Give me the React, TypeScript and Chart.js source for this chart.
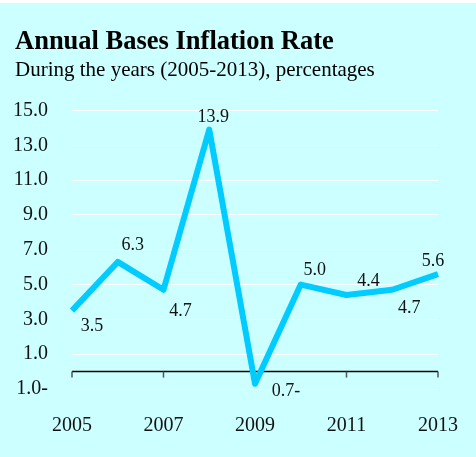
import React, { useEffect, useRef } from 'react';
import { Chart, registerables } from 'chart.js';

Chart.register(...registerables);

// ---- data ----
const years = ['2005', '2006', '2007', '2008', '2009', '2010', '2011', '2012', '2013'];
const inflation = [3.5, 6.3, 4.7, 13.9, -0.7, 5.0, 4.4, 4.7, 5.6];
const shownYears = ['2005', '2007', '2009', '2011', '2013'];
const yMin = -1;
const yMax = 15;
const yStep = 2;
const titleText = 'Annual Bases Inflation Rate';
const subtitleText = 'During the years (2005-2013), percentages';

// ---- styling ----
const BG = '#ccffff';
const LINE = '#00ccff';
const FONT = '"Liberation Serif", "Times New Roman", serif';
// label placement relative to each point (dx, dy in px)
const labelOffsets: [number, number][] = [
  [20, 16], [15, -17], [17, 21], [4, -12], [31, 7], [14, -14], [22, -14], [17, 18], [-5, -13],
];

const fmt = (v: number) => (v < 0 ? `${Math.abs(v).toFixed(1)}-` : v.toFixed(1));

const decor = {
  id: 'decor',
  beforeDraw(chart: any) {
    const { ctx, width, height } = chart;
    ctx.save();
    ctx.fillStyle = '#ffffff';
    ctx.fillRect(0, 0, width, height);
    ctx.fillStyle = BG;
    ctx.fillRect(0, 3, width, height - 3);
    ctx.fillStyle = '#000';
    ctx.textAlign = 'left';
    ctx.textBaseline = 'alphabetic';
    ctx.font = `bold 26.5px ${FONT}`;
    ctx.fillText(titleText, 15, 49);
    ctx.font = `21px ${FONT}`;
    ctx.fillText(subtitleText, 15, 76);
    ctx.restore();
  },
  beforeDatasetsDraw(chart: any) {
    const { ctx, chartArea, scales } = chart;
    const y0 = scales.y.getPixelForValue(0);
    ctx.save();
    ctx.strokeStyle = '#000';
    ctx.lineWidth = 1.5;
    ctx.beginPath();
    ctx.moveTo(chartArea.left, y0);
    ctx.lineTo(chartArea.right, y0);
    ctx.stroke();
    ctx.strokeStyle = '#555';
    ctx.lineWidth = 1.5;
    years.forEach((yr, i) => {
      if (!shownYears.includes(yr)) return;
      const x = scales.x.getPixelForValue(i);
      ctx.beginPath();
      ctx.moveTo(x, y0);
      ctx.lineTo(x, y0 + 6);
      ctx.stroke();
    });
    ctx.restore();
  },
  afterDatasetsDraw(chart: any) {
    const { ctx, scales } = chart;
    ctx.save();
    ctx.fillStyle = '#111';
    ctx.font = `18px ${FONT}`;
    ctx.textAlign = 'center';
    ctx.textBaseline = 'middle';
    inflation.forEach((v, i) => {
      const x = scales.x.getPixelForValue(i);
      const y = scales.y.getPixelForValue(v);
      const [dx, dy] = labelOffsets[i];
      ctx.fillText(fmt(v), x + dx, y + dy);
    });
    ctx.restore();
  },
};

export default function App() {
  const ref = useRef<HTMLCanvasElement>(null);
  useEffect(() => {
    if (!ref.current) return;
    const chart = new Chart(ref.current, {
      type: 'line',
      data: {
        labels: years,
        datasets: [
          {
            data: inflation,
            borderColor: LINE,
            borderWidth: 6,
            borderJoinStyle: 'round',
            pointRadius: 0,
            pointHoverRadius: 0,
            tension: 0,
            fill: false,
          },
        ],
      },
      options: {
        responsive: false,
        animation: false,
        devicePixelRatio: 1,
        events: [],
        layout: { padding: { top: 110.5, right: 38, bottom: 19, left: 0 } },
        plugins: {
          legend: { display: false },
          title: { display: false },
          tooltip: { enabled: false },
        },
        scales: {
          x: {
            offset: false,
            grid: { display: false, drawTicks: false },
            border: { display: false },
            afterFit: (s: any) => {
              s.height = 49;
              s.paddingLeft = 0;
              s.paddingRight = 0;
            },
            ticks: {
              autoSkip: false,
              maxRotation: 0,
              padding: 25,
              color: '#111',
              font: { family: FONT, size: 20 },
              callback: (_v: any, i: number) => (shownYears.includes(years[i]) ? years[i] : ''),
            },
          },
          y: {
            min: yMin,
            max: yMax,
            afterFit: (s: any) => {
              s.width = 72;
              s.paddingTop = 0;
              s.paddingBottom = 0;
            },
            grid: { color: 'rgba(255,255,255,0.95)', lineWidth: 1, drawTicks: false },
            border: { display: false },
            ticks: {
              stepSize: yStep,
              padding: 24,
              color: '#111',
              font: { family: FONT, size: 20 },
              callback: (v: any) => fmt(Number(v)),
            },
          },
        },
      },
      plugins: [decor],
    });
    return () => chart.destroy();
  }, []);
  return (
    <div style={{ position: 'fixed', left: 0, top: 0, width: 476, height: 457 }}>
      <canvas ref={ref} width={476} height={457} />
    </div>
  );
}
